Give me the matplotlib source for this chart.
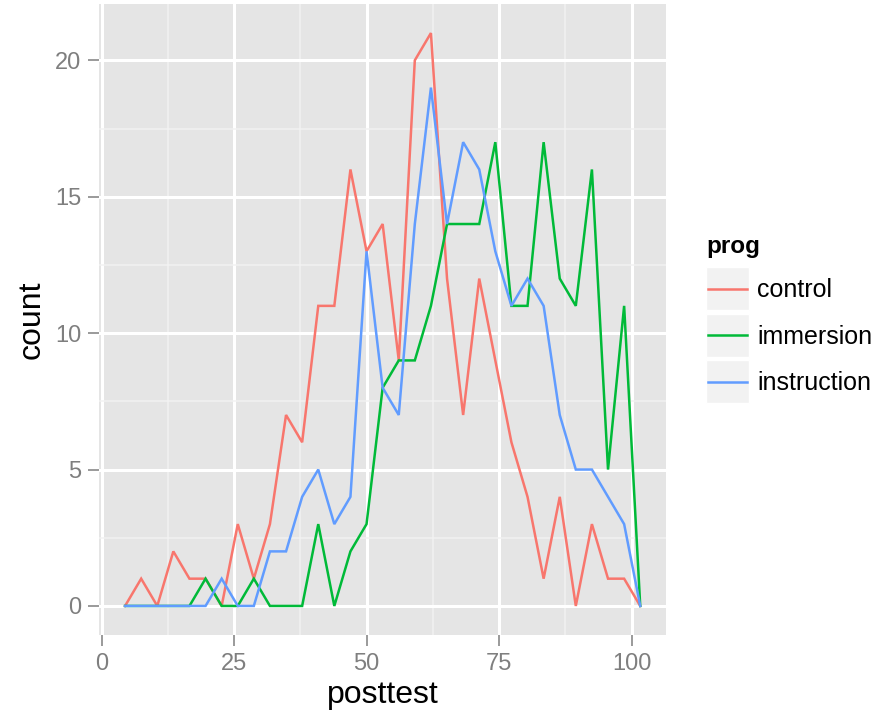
import matplotlib
matplotlib.use("Agg")
import matplotlib.pyplot as plt
from matplotlib.patches import Rectangle
from matplotlib.lines import Line2D

plt.rcParams['font.family'] = ['Liberation Sans', 'DejaVu Sans']

# Frequency-polygon bin centres (posttest score)
posttest = [4.40, 7.44, 10.48, 13.51, 16.55, 19.59, 22.63, 25.67, 28.70, 31.74,
            34.78, 37.82, 40.86, 43.89, 46.93, 49.97, 53.01, 56.05, 59.08, 62.12,
            65.16, 68.20, 71.24, 74.27, 77.31, 80.35, 83.39, 86.43, 89.46, 92.50,
            95.54, 98.58, 101.62]

# Counts per bin for each programme
control = [0, 1, 0, 2, 1, 1, 0, 3, 1, 3, 7, 6, 11, 11, 16, 13, 14, 9, 20, 21,
           12, 7, 12, 9, 6, 4, 1, 4, 0, 3, 1, 1, 0]
immersion = [0, 0, 0, 0, 0, 1, 0, 0, 1, 0, 0, 0, 3, 0, 2, 3, 8, 9, 9, 11,
             14, 14, 14, 17, 11, 11, 17, 12, 11, 16, 5, 11, 0]
instruction = [0, 0, 0, 0, 0, 0, 1, 0, 0, 2, 2, 4, 5, 3, 4, 13, 8, 7, 14, 19,
               14, 17, 16, 13, 11, 12, 11, 7, 5, 5, 4, 3, 0]

prog_names = ["control", "immersion", "instruction"]
prog_colors = ["#F8766D", "#00BA38", "#619CFF"]
series = [control, immersion, instruction]

x_ticks = [0, 25, 50, 75, 100]
y_ticks = [0, 5, 10, 15, 20]

W, H = 895, 717
fig = plt.figure(figsize=(W / 100, H / 100), dpi=100)
fig.patch.set_facecolor("white")


def fx(px):
    return px / W


def fy(py):
    return 1 - py / H


# panel placement in pixels
pl, pr, pt, pb = 99.3, 666.0, 4.4, 634.6
ax = fig.add_axes([fx(pl), fy(pb), fx(pr - pl), (pb - pt) / H])
ax.set_facecolor("#E5E5E5")

xr = max(posttest) - min(posttest)
ax.set_xlim(min(posttest) - 0.05 * xr, max(posttest) + 0.05 * xr)
ymax = max(max(s) for s in series)
ax.set_ylim(-0.05 * ymax, ymax * 1.05)

ax.set_xticks(x_ticks)
ax.set_xticks([12.5, 37.5, 62.5, 87.5], minor=True)
ax.set_yticks(y_ticks)
ax.set_yticks([2.5, 7.5, 12.5, 17.5], minor=True)
ax.grid(which="major", color="white", linewidth=2.2)
ax.grid(which="minor", color="#F2F2F2", linewidth=1.1)
ax.set_axisbelow(True)
for s in ax.spines.values():
    s.set_visible(False)

ax.tick_params(which="major", length=8, width=1.1, color="#7F7F7F",
               labelcolor="#7F7F7F", labelsize=17, pad=5)
ax.tick_params(which="minor", length=0)

for vals, col in zip(series, prog_colors):
    ax.plot(posttest, vals, color=col, linewidth=1.8, solid_joinstyle="miter")

ax.set_xlabel("posttest", fontsize=23, color="black", labelpad=4)
ax.set_ylabel("count", fontsize=23, color="black", labelpad=6)

# legend
fig.text(fx(706), fy(253), "prog", fontsize=17.5, fontweight="bold",
         ha="left", va="baseline")
centers = [288.5, 335.0, 381.5]
for name, col, cy in zip(prog_names, prog_colors, centers):
    fig.patches.append(Rectangle((fx(706), fy(cy + 21.5)), fx(43), 43 / H,
                                 transform=fig.transFigure, facecolor="#F2F2F2",
                                 edgecolor="white", linewidth=1))
    fig.lines.append(Line2D([fx(708), fx(747)], [fy(cy), fy(cy)],
                            transform=fig.transFigure, color=col, linewidth=1.8))
    fig.text(fx(757), fy(cy + 8.5), name, fontsize=18, ha="left", va="baseline")

fig.savefig("out.png", dpi=100)
